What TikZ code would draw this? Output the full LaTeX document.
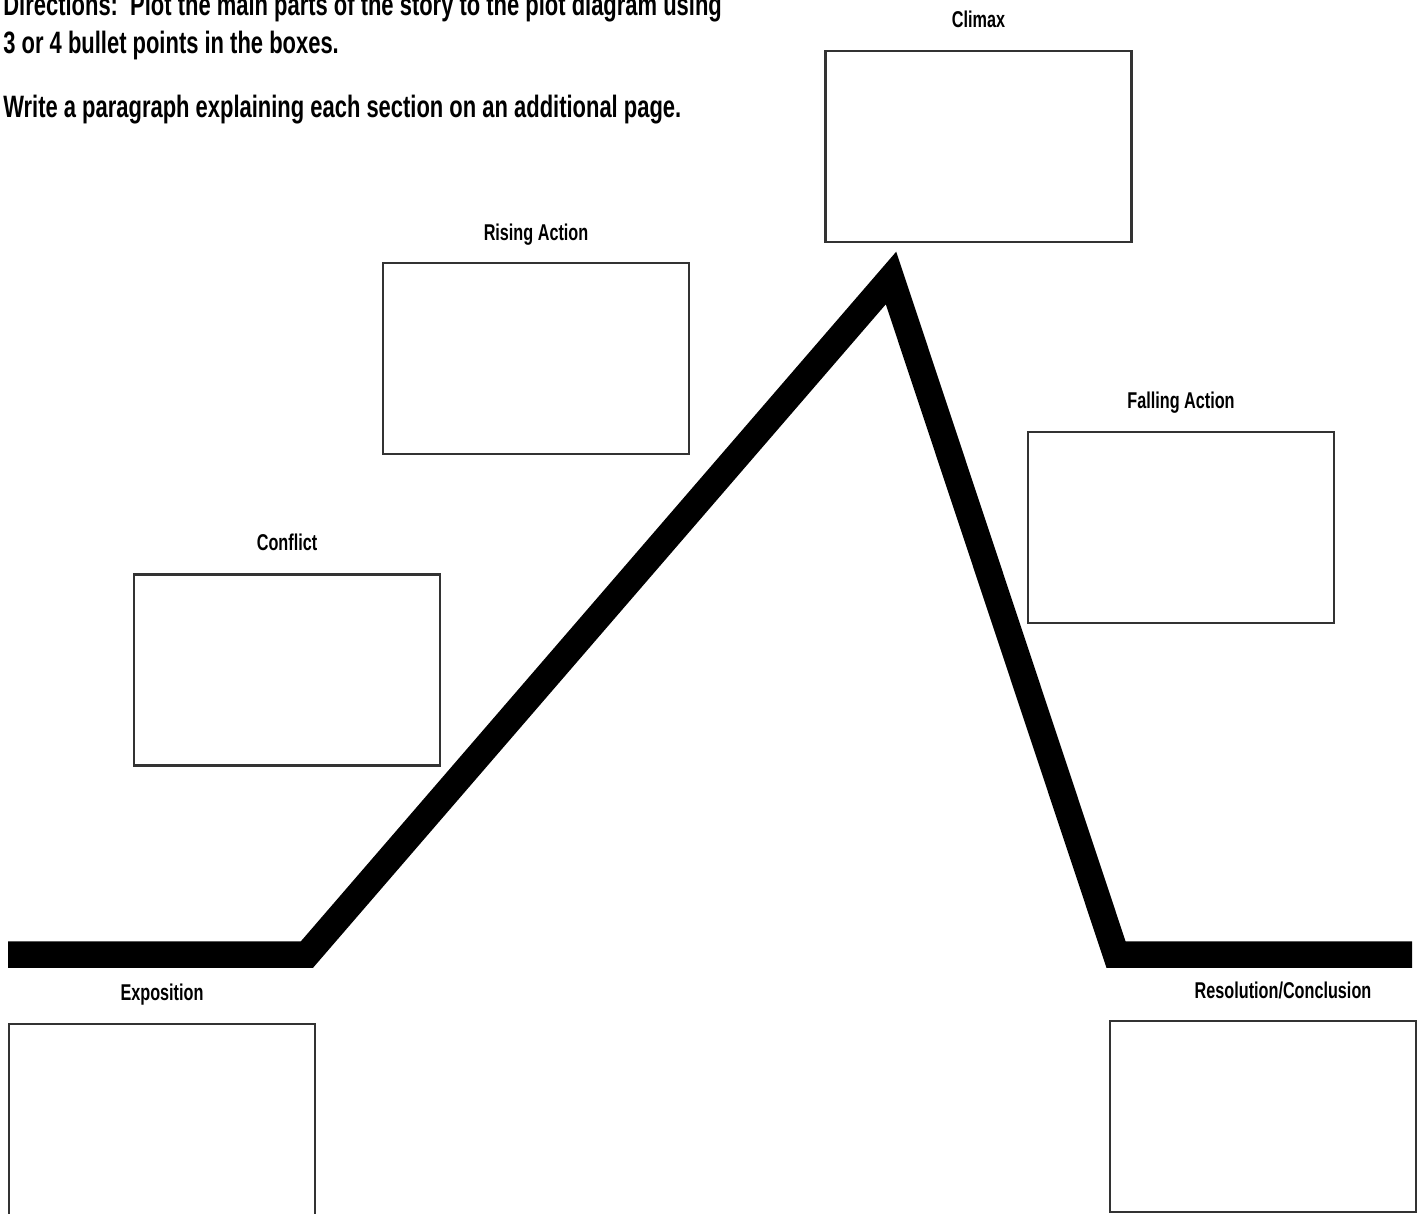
\documentclass[tikz,border=0pt]{standalone}
\usepackage{fontspec}
\newfontfamily\plotfont[FakeStretch=0.71]{Liberation Sans}
\usetikzlibrary{positioning}

\begin{document}
\begin{tikzpicture}[x=0.02cm, y=-0.02cm,
		box node/.style={rectangle,draw=black!80,line width=1.3pt,minimum width=6.12cm,minimum height=3.82cm,inner sep=0pt},
		title node/.style={anchor=base,inner sep=0pt,font=\plotfont\bfseries\fontsize{13}{15}\selectfont},
		text node/.style={anchor=base west,inner sep=0pt,font=\plotfont\bfseries\fontsize{17.6}{20}\selectfont},
		plot line/.style={line width=0.53cm,line join=miter,line cap=butt}]
		
		\useasboundingbox (0,0) rectangle (1424,1214);
		
		\node[text node] (dir1) at (3,15) {Directions:\ \ Plot the main parts of the story to the plot diagram using};
		\node[text node] (dir2) at (3,53) {3 or 4 bullet points in the boxes.};
		\node[text node] (dir3) at (3,117) {Write a paragraph explaining each section on an additional page.};
		
		\node[box node] (climax) at (978.5,146.5) {};
		\node[box node] (rising) at (536,358.5) {};
		\node[box node] (falling) at (1181,527.5) {};
		\node[box node] (conflict) at (287,670) {};
		\node[box node] (exposition) at (162,1119.5) {};
		\node[box node] (resolution) at (1263,1116.5) {};
		
		\node[title node] (climaxlbl) at ([yshift=0.44cm]climax.north) {Climax};
		\node[title node] (risinglbl) at ([yshift=0.42cm]rising.north) {Rising Action};
		\node[title node] (fallinglbl) at ([yshift=0.44cm]falling.north) {Falling Action};
		\node[title node] (conflictlbl) at ([yshift=0.46cm]conflict.north) {Conflict};
		\node[title node] (expositionlbl) at ([yshift=0.44cm]exposition.north) {Exposition};
		\node[title node] (resolutionlbl) at ([xshift=0.4cm,yshift=0.42cm]resolution.north) {Resolution/Conclusion};
		
		\coordinate (start) at (8,954.5);
		\coordinate (base) at (307,954.5);
		\coordinate (peak) at (891,278);
		\coordinate (foot) at (1116,954.5);
		\coordinate (end) at (1412,954.5);
		
		\draw[plot line] (start) -- (base) -- (peak) -- (foot) -- (end);
		
	\end{tikzpicture}
\end{document}
